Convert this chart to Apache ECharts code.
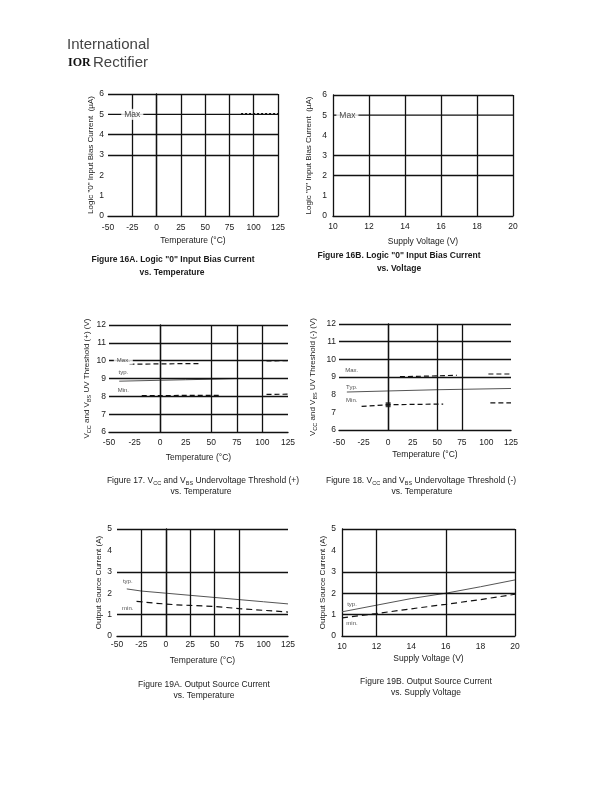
<!DOCTYPE html>
<html><head><meta charset="utf-8">
<script src="https://cdn.jsdelivr.net/npm/echarts@6/dist/echarts.min.js"></script>
<style>html,body{margin:0;padding:0;background:#fff}#c{width:611px;height:791px}</style>
</head><body><div id="c"></div><script>
// ---------- data ----------
const tempTicks = [-50, -25, 0, 25, 50, 75, 100, 125];
const voltTicks = [10, 12, 14, 16, 18, 20];

// Fig 16A / 16B
const f16a_max = [[-50, 5], [125, 5]];
const f16a_maxDash = [[87, 5.03], [125, 5.03]];
const f16b_max = [[10, 5], [20, 5]];
const g16a_h = [3, 4, 6];
const g16a_v = [-25, 0, 25, 50, 75, 100, 125];
const g16b_h = [2, 3, 6];
const g16b_v = [12, 14, 16, 18, 20];

// Fig 17
const f17_max = [[[-30, 9.8], [0, 9.82], [38, 9.84]], [[104, 9.99], [125, 10.0]]];
const f17_typ = [[-40, 8.85], [0, 8.9], [25, 8.93], [50, 8.96], [75, 9.0], [100, 9.0]];
const f17_min = [[[-18, 8.04], [25, 8.05], [58, 8.05]], [[104, 8.11], [125, 8.12]]];
const g17_h = [7, 8, 9, 10, 11, 12];
const g17_v = [0, 50, 75, 100];

// Fig 18
const f18_max = [[[12, 9.02], [40, 9.05], [70, 9.1]], [[102, 9.17], [125, 9.17]]];
const f18_typ = [[-42, 8.15], [0, 8.21], [50, 8.28], [125, 8.35]];
const f18_min = [[[-27, 7.34], [0, 7.43], [56, 7.47]], [[104, 7.53], [125, 7.53]]];
const f18_minMark = [[0, 7.43]];
const g18_h = [9, 10, 11, 12];
const g18_v = [0, 50, 75];

// Fig 19A
const f19a_typ = [[-40, 2.2], [-25, 2.1], [0, 2.0], [25, 1.9], [50, 1.8], [75, 1.7], [100, 1.6], [125, 1.5]];
const f19a_min = [[-30, 1.62], [-10, 1.53], [10, 1.46], [25, 1.43], [40, 1.4], [50, 1.38], [75, 1.28], [100, 1.2], [125, 1.12]];
const g19a_h = [1, 3, 5];
const g19a_v = [-25, 0, 25, 50, 75];

// Fig 19B
const f19b_typ = [[10, 1.13], [12, 1.44], [14, 1.75], [16, 2.0], [18, 2.3], [20, 2.62]];
const f19b_min = [[10, 0.85], [12, 1.05], [14, 1.27], [16, 1.48], [18, 1.7], [20, 1.95]];
const g19b_h = [1, 2, 3, 5];
const g19b_v = [12, 16, 20];

// ---------- layout ----------
const FONT = '"Liberation Sans", Arial, sans-serif';
const TXT = '#1a1a1a';
const subRich = { s: { fontSize: 5.5, fontFamily: FONT, color: TXT, padding: [5, 0, 0, 0] } };

const panels = [
  { grid: [108, 94, 170, 122], x: [-50, 125, 25], y: [0, 6, 1], xName: 'Temperature (°C)', xGap: 20, xM: 7,
    yName: 'Logic "0" Input Bias Current  (µA)', yGap: 13, yM: 4, h: g16a_h, v: g16a_v,
    lines: [{ d: [f16a_max], w: 1.3 }, { d: [f16a_maxDash], w: 1.3, dash: [2, 2] }],
    labels: [{ p: [-25, 5], t: 'Max', fs: 8.5, bg: true }] },
  { grid: [333, 95, 180, 121], x: [10, 20, 2], y: [0, 6, 1], xName: 'Supply Voltage (V)', xGap: 21, xM: 6,
    yName: 'Logic "0" Input Bias Current  (µA)', yGap: 20, yM: 6, h: g16b_h, v: g16b_v,
    lines: [{ d: [f16b_max], w: 1.3 }],
    labels: [{ p: [10.8, 5], t: 'Max', fs: 8.5, bg: true }] },
  { grid: [109, 325, 179, 107], x: [-50, 125, 25], y: [6, 12, 1], xName: 'Temperature (°C)', xGap: 21, xM: 6,
    yName: 'V{s|CC} and V{s|BS} UV Threshold (+) (V)', yGap: 13, yM: 3, h: g17_h, v: g17_v,
    lines: [{ d: f17_max, w: 1.2, dash: [5, 3] }, { d: [f17_typ], w: 1, c: '#555' }, { d: f17_min, w: 1.2, dash: [5, 3] }],
    labels: [{ p: [-36, 10.0], t: 'Max.', fs: 6, bg: true }, { p: [-36, 9.32], t: 'typ.', fs: 6 }, { p: [-36, 8.36], t: 'Min.', fs: 6 }] },
  { grid: [339, 324, 172, 106], x: [-50, 125, 25], y: [6, 12, 1], xName: 'Temperature (°C)', xGap: 20, xM: 8,
    yName: 'V{s|CC} and V{s|BS} UV Threshold (-) (V)', yGap: 21, yM: 3, h: g18_h, v: g18_v,
    lines: [{ d: f18_max, w: 1.2, dash: [5, 3] }, { d: [f18_typ], w: 1, c: '#555' }, { d: f18_min, w: 1.2, dash: [5, 3] }],
    marks: f18_minMark,
    labels: [{ p: [-37, 9.4], t: 'Max.', fs: 6 }, { p: [-37, 8.42], t: 'Typ.', fs: 6 }, { p: [-37, 7.66], t: 'Min.', fs: 6 }] },
  { grid: [117, 529, 171, 107], x: [-50, 125, 25], y: [0, 5, 1], xName: 'Temperature (°C)', xGap: 20, xM: 4,
    yName: 'Output Source Current (A)', yGap: 14, yM: 5, h: g19a_h, v: g19a_v,
    lines: [{ d: [f19a_typ], w: 1, c: '#555' }, { d: [f19a_min], w: 1.2, dash: [6, 4] }],
    labels: [{ p: [-39, 2.54], t: 'typ.', fs: 6 }, { p: [-39, 1.27], t: 'min.', fs: 6 }] },
  { grid: [342, 529, 173, 107], x: [10, 20, 2], y: [0, 5, 1], xName: 'Supply Voltage (V)', xGap: 18, xM: 6,
    yName: 'Output Source Current (A)', yGap: 15, yM: 6, h: g19b_h, v: g19b_v,
    lines: [{ d: [f19b_typ], w: 1, c: '#555' }, { d: [f19b_min], w: 1.2, dash: [6, 4] }],
    labels: [{ p: [10.58, 1.5], t: 'typ.', fs: 6 }, { p: [10.58, 0.58], t: 'min.', fs: 6 }] }
];

const grids = [], xAxes = [], yAxes = [], series = [];
panels.forEach((P, i) => {
  grids.push({ left: P.grid[0], top: P.grid[1], width: P.grid[2], height: P.grid[3], containLabel: false });
  const axLine = { show: true, lineStyle: { color: '#111', width: 1.3 } };
  xAxes.push({ gridIndex: i, type: 'value', min: P.x[0], max: P.x[1], interval: P.x[2],
    axisLine: axLine, axisTick: { show: false }, splitLine: { show: false },
    axisLabel: { fontSize: 8.5, fontFamily: FONT, color: TXT, margin: P.xM },
    name: P.xName, nameLocation: 'middle', nameGap: P.xGap,
    nameTextStyle: { fontSize: 8.5, fontFamily: FONT, color: TXT } });
  yAxes.push({ gridIndex: i, type: 'value', min: P.y[0], max: P.y[1], interval: P.y[2],
    axisLine: axLine, axisTick: { show: false }, splitLine: { show: false },
    axisLabel: { fontSize: 8.5, fontFamily: FONT, color: TXT, margin: P.yM },
    name: P.yName, nameLocation: 'middle', nameGap: P.yGap, nameRotate: 90,
    nameTextStyle: { fontSize: 8, fontFamily: FONT, color: TXT, rich: subRich } });
  // grid lines
  const ml = [];
  P.h.forEach(v => ml.push({ yAxis: v }));
  P.v.forEach(v => ml.push({ xAxis: v }));
  series.push({ type: 'line', xAxisIndex: i, yAxisIndex: i, data: [[P.x[0], P.y[0]]], symbol: 'none',
    silent: true, z: 1,
    markLine: { silent: true, symbol: 'none', animation: false, label: { show: false },
      lineStyle: { color: '#111', width: 1.3, type: 'solid' }, data: ml } });
  P.lines.forEach(L => {
    L.d.forEach(seg => {
      series.push({ type: 'line', xAxisIndex: i, yAxisIndex: i, data: seg, symbol: 'none', silent: true, z: 3,
        lineStyle: { color: L.c || '#111', width: L.w, type: L.dash || 'solid' } });
    });
  });
  if (P.marks) {
    series.push({ type: 'scatter', xAxisIndex: i, yAxisIndex: i, data: P.marks, symbol: 'rect', symbolSize: 5,
      itemStyle: { color: '#111' }, silent: true, z: 4 });
  }
  series.push({ type: 'scatter', xAxisIndex: i, yAxisIndex: i, symbolSize: 0.1, silent: true, z: 5,
    data: P.labels.map(l => ({ value: [l.p[0], l.p[1]], name: l.t,
      label: { show: true, position: 'inside', formatter: l.t, fontSize: l.fs, fontFamily: FONT, color: TXT,
        backgroundColor: l.bg ? '#fff' : 'transparent', padding: l.bg ? [1, 3] : 0 } })) });
});

// captions and logo
function cap(x, y, text, bold) {
  return { type: 'text', x: x, y: y, silent: true,
    style: { text: text, fill: TXT, font: (bold ? 'bold ' : '') + '8.5px ' + FONT, align: 'center', verticalAlign: 'middle',
      rich: { s: { fontSize: 5.5, fontWeight: bold ? 'bold' : 'normal', fontFamily: FONT, fill: TXT, padding: [5, 0, 0, 0] } } } };
}
const graphics = [
  { type: 'text', x: 67, y: 45, silent: true, style: { text: 'International', fill: '#444', font: '15px "Liberation Sans Narrow", "Liberation Sans", sans-serif', verticalAlign: 'middle' } },
  { type: 'text', x: 68, y: 63, silent: true, style: { text: 'IOR', fill: '#111', font: 'bold 12px "Liberation Serif", serif', verticalAlign: 'middle' } },
  { type: 'text', x: 93, y: 63, silent: true, style: { text: 'Rectifier', fill: '#444', font: '15px "Liberation Sans Narrow", "Liberation Sans", sans-serif', verticalAlign: 'middle' } },
  cap(173, 260, 'Figure 16A. Logic "0" Input Bias Current', true),
  cap(172, 273, 'vs. Temperature', true),
  cap(399, 256, 'Figure 16B. Logic "0" Input Bias Current', true),
  cap(399, 269, 'vs. Voltage', true),
  cap(203, 481, 'Figure 17. V{s|CC} and V{s|BS} Undervoltage Threshold (+)', false),
  cap(201, 492, 'vs. Temperature', false),
  cap(421, 481, 'Figure 18. V{s|CC} and V{s|BS} Undervoltage Threshold (-)', false),
  cap(422, 492, 'vs. Temperature', false),
  cap(204, 685, 'Figure 19A. Output Source Current', false),
  cap(204, 696, 'vs. Temperature', false),
  cap(426, 682, 'Figure 19B. Output Source Current', false),
  cap(426, 693, 'vs. Supply Voltage', false)
];

const chart = echarts.init(document.getElementById('c'), null, { renderer: 'canvas' });
chart.setOption({ animation: false, backgroundColor: '#fff', grid: grids, xAxis: xAxes, yAxis: yAxes, series: series, graphic: graphics });
</script></body></html>
